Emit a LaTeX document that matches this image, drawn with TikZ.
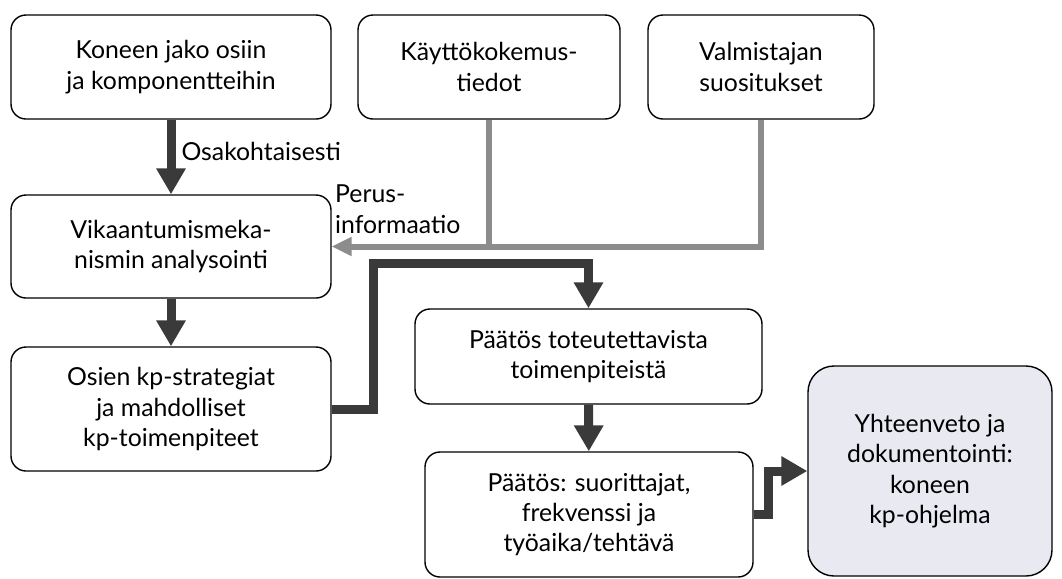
\documentclass[tikz,border=0pt]{standalone}
\usepackage{fontspec}
\setmainfont{Lato}
\usetikzlibrary{arrows.meta}
\definecolor{darkline}{HTML}{3A3A3A}
\definecolor{infogray}{HTML}{8C8C8C}
\definecolor{resultfill}{HTML}{E9E9F1}

\begin{document}
\begin{tikzpicture}[x=0.5pt,y=-0.5pt,
    nodes = {font=\fontsize{12.4}{15.2}\selectfont, align=center},
    stepbox/.style = {draw, line width=0.7pt, rounded corners=7.5pt, inner sep=0pt},
    flow/.style = {draw=darkline, line width=4.5pt,
      -{Triangle[width=14pt,length=13pt]}},
    info/.style = {draw=infogray, line width=3pt},
    infoarrow/.style = {info, -{Triangle[width=9pt,length=10pt]}}]
  \useasboundingbox (0,0) rectangle (1062,579);
  % Top row: sources
  \node[stepbox, minimum width=160pt, minimum height=52pt] (jako) at (171,67)
    {Koneen jako osiin\\ja komponentteihin};
  \node[stepbox, minimum width=131pt, minimum height=52pt] (kaytto) at (489,67)
    {Käyttökokemus-\\tiedot};
  \node[stepbox, minimum width=113pt, minimum height=52pt] (valm) at (761,67)
    {Valmistajan\\suositukset};
  % Left column
  \node[stepbox, minimum width=160pt, minimum height=51.5pt] (vika) at (171,246.5)
    {Vikaantumismeka-\\nismin analysointi};
  \node[stepbox, minimum width=160pt, minimum height=62pt] (osien) at (171,409)
    {Osien kp-strategiat\\ja mahdolliset\\kp-toimenpiteet};
  % Decisions
  \node[stepbox, minimum width=173.5pt, minimum height=47.5pt] (paatos) at (588.5,356.5)
    {Päätös toteutettavista\\toimenpiteistä};
  \node[stepbox, minimum width=164pt, minimum height=62.5pt] (suor) at (589,514.5)
    {Päätös: suorittajat,\\frekvenssi ja\\työaika/tehtävä};
  % Result
  \node[stepbox, rounded corners=13pt, fill=resultfill, minimum width=122pt,
    minimum height=105pt] (yht) at (930,471)
    {Yhteenveto ja\\dokumentointi:\\koneen\\kp-ohjelma};
  % Connectors
  \draw[flow] (jako) -- (vika)
    node[pos=0.42, right=3pt, inner sep=0pt] (osak) {Osakohtaisesti};
  \draw[flow] (vika) -- (osien);
  \draw[info] (valm.south) |- (kaytto.south |- vika.east);
  \draw[infoarrow] (kaytto.south) |- (vika.east)
    node[pos=0.79, above=5pt, align=left, inner sep=0pt] (perus) {Perus-\\informaatio};
  \coordinate (kink) at (373,263);
  \draw[flow, rounded corners=0pt] (osien.east) -| (kink) -| (paatos.north);
  \draw[flow] (paatos) -- (suor);
  \draw[flow] (suor.east) -- ++(15,0) |- (yht.west);
\end{tikzpicture}
\end{document}
